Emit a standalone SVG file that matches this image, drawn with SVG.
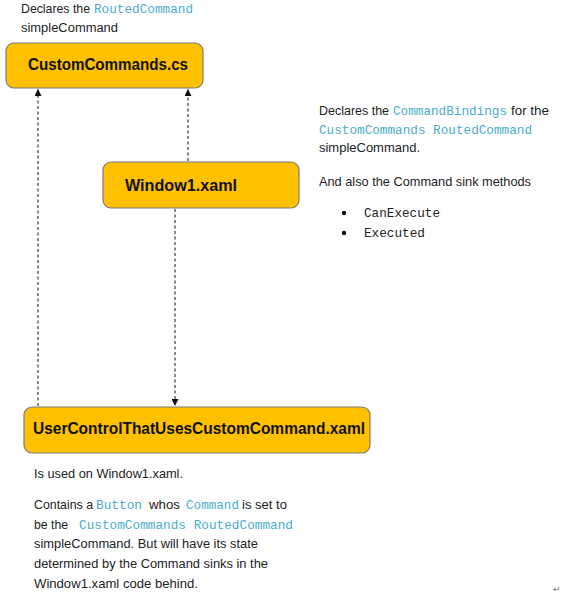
<svg xmlns="http://www.w3.org/2000/svg" width="581" height="608" viewBox="0 0 581 608">
<style>
.box{fill:#FFC000;stroke:#7a7a7a;stroke-width:1.2}
.lbl{font-family:"Liberation Sans",Arial,sans-serif;font-weight:bold;font-size:17px;fill:#111}
.t{font-family:"Liberation Sans",Arial,sans-serif;font-size:13px;fill:#222}
.c{font-family:"Liberation Mono","Courier New",monospace;font-size:12.7px;fill:#4aaccb}
.cb{font-family:"Liberation Mono","Courier New",monospace;font-size:12.7px;fill:#222}
.edge{stroke:#111;stroke-width:1;stroke-dasharray:3,2.5;fill:none}
</style>
<defs>
<marker id="ah" viewBox="0 0 10 10" refX="10" refY="5" markerWidth="7" markerHeight="7" markerUnits="userSpaceOnUse" orient="auto">
<path d="M0,0 L10,5 L0,10 z" fill="#111"/>
</marker>
</defs>
<rect width="581" height="608" fill="#fff"/>
<g id="connectors">
<line class="edge" x1="38" y1="406" x2="38" y2="89" marker-end="url(#ah)"/>
<line class="edge" x1="188" y1="161" x2="188" y2="89" marker-end="url(#ah)"/>
<line class="edge" x1="175" y1="209" x2="175" y2="406" marker-end="url(#ah)"/>
</g>
<g id="customcommands">
<rect class="box" x="6" y="43" width="197" height="45" rx="8"/>
<text class="lbl" x="28" y="70" textLength="160" lengthAdjust="spacingAndGlyphs">CustomCommands.cs</text>
</g>
<g id="window1">
<rect class="box" x="103" y="162" width="196" height="46" rx="8"/>
<text class="lbl" x="125" y="191" textLength="112" lengthAdjust="spacingAndGlyphs">Window1.xaml</text>
</g>
<g id="usercontrol">
<rect class="box" x="24" y="407" width="346" height="46" rx="8"/>
<text class="lbl" x="33" y="434" textLength="332" lengthAdjust="spacingAndGlyphs">UserControlThatUsesCustomCommand.xaml</text>
</g>
<g id="note-top">
<text class="t" x="21" y="13" textLength="69" lengthAdjust="spacingAndGlyphs">Declares the</text>
<text class="c" x="94" y="13" textLength="99" lengthAdjust="spacingAndGlyphs">RoutedCommand</text>
<text class="t" x="21" y="32" textLength="97" lengthAdjust="spacingAndGlyphs">simpleCommand</text>
</g>
<g id="note-right">
<text class="t" x="319" y="115" textLength="70" lengthAdjust="spacingAndGlyphs">Declares the</text>
<text class="c" x="393" y="115" textLength="114" lengthAdjust="spacingAndGlyphs">CommandBindings</text>
<text class="t" x="511" y="115" textLength="38" lengthAdjust="spacingAndGlyphs">for the</text>
<text class="c" x="319" y="134" textLength="213" lengthAdjust="spacingAndGlyphs">CustomCommands RoutedCommand</text>
<text class="t" x="319" y="152" textLength="101" lengthAdjust="spacingAndGlyphs">simpleCommand.</text>
<text class="t" x="319" y="186" textLength="212" lengthAdjust="spacingAndGlyphs">And also the Command sink methods</text>
<circle cx="344" cy="213" r="2.2" fill="#111"/>
<text class="cb" x="364" y="217" textLength="76" lengthAdjust="spacingAndGlyphs">CanExecute</text>
<circle cx="344" cy="233" r="2.2" fill="#111"/>
<text class="cb" x="364" y="237" textLength="61" lengthAdjust="spacingAndGlyphs">Executed</text>
</g>
<g id="note-bottom">
<text class="t" x="34" y="478" textLength="149" lengthAdjust="spacingAndGlyphs">Is used on Window1.xaml.</text>
<text class="t" x="34" y="509" textLength="59" lengthAdjust="spacingAndGlyphs">Contains a</text>
<text class="c" x="96" y="509" textLength="46" lengthAdjust="spacingAndGlyphs">Button</text>
<text class="t" x="149" y="509" textLength="31" lengthAdjust="spacingAndGlyphs">whos</text>
<text class="c" x="186" y="509" textLength="53" lengthAdjust="spacingAndGlyphs">Command</text>
<text class="t" x="242" y="509" textLength="45" lengthAdjust="spacingAndGlyphs">is set to</text>
<text class="t" x="34" y="529" textLength="34" lengthAdjust="spacingAndGlyphs">be the</text>
<text class="c" x="79" y="529" textLength="214" lengthAdjust="spacingAndGlyphs">CustomCommands RoutedCommand</text>
<text class="t" x="34" y="548" textLength="224" lengthAdjust="spacingAndGlyphs">simpleCommand. But will have its state</text>
<text class="t" x="34" y="568" textLength="234" lengthAdjust="spacingAndGlyphs">determined by the Command sinks in the</text>
<text class="t" x="34" y="588" textLength="164" lengthAdjust="spacingAndGlyphs">Window1.xaml code behind.</text>
</g>
<text x="553" y="592" font-family="DejaVu Sans,sans-serif" font-size="9" fill="#777">↵</text>
</svg>
